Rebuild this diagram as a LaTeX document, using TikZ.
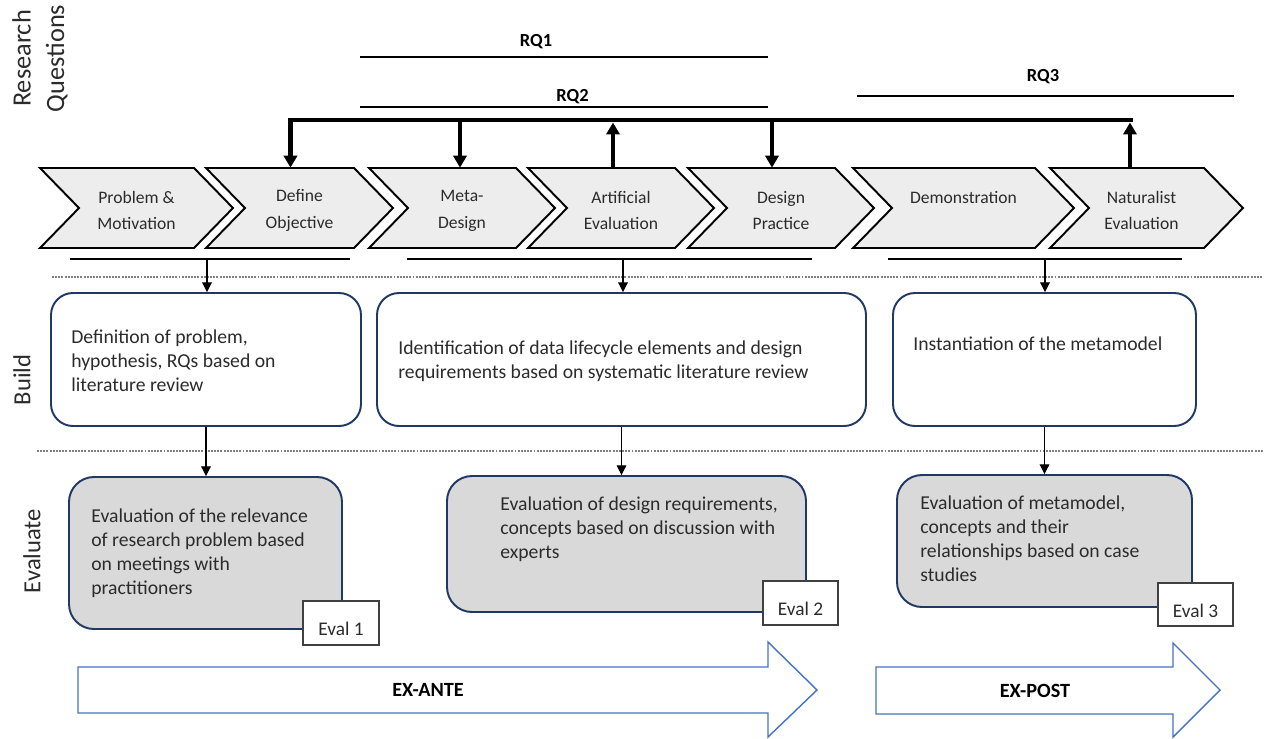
\documentclass[tikz,border=0pt]{standalone}
\usepackage{fontspec}
\setmainfont{Carlito}
\usetikzlibrary{arrows.meta}

% one drawing unit = one pixel of the layout grid
\newdimen\pxu \pxu=0.02cm

\definecolor{chevgray}{HTML}{EDEDED}
\definecolor{navy}{HTML}{1F3864}
\definecolor{evalgray}{HTML}{D9D9D9}
\definecolor{arrowblue}{HTML}{4472C4}
\definecolor{textgray}{HTML}{2B2B2B}
\definecolor{dotgray}{HTML}{808080}
\definecolor{taggray}{HTML}{404040}

% chevron: [label x offset] name, left x, tip x, label
\newcommand{\chevron}[5][0]{%
  \draw[chev] (#3,168) -- ({#4-39},168) -- (#4,208) -- ({#4-39},248)
    -- (#3,248) -- ({#3+39},208) -- cycle;
  \node[chevlabel] (#2) at ({(#3+#4)/2+#1},210.5) {#5};
}

\begin{document}
\begin{tikzpicture}[x=0.02cm,y=-0.02cm,
  chev/.style={draw=black,line width=1.1pt,fill=chevgray,line join=miter},
  chevlabel/.style={font=\fontsize{10}{15.3}\selectfont,align=center,
    text=textgray,minimum height=85\pxu,inner sep=0pt},
  sidelabel/.style={font=\fontsize{14}{18.7}\selectfont,align=center,
    text=textgray,rotate=90,inner sep=0pt},
  rqline/.style={line width=0.75pt},
  rqlabel/.style={font=\fontsize{10.5}{12}\selectfont\bfseries,inner sep=0pt},
  rqarrow/.style={line width=2.6pt,-{Triangle[width=7.5pt,length=6.8pt]}},
  spanline/.style={line width=0.7pt},
  phasesep/.style={draw=dotgray,line width=0.6pt,dash pattern=on 1.1pt off 0.7pt},
  thinarrow/.style={line width=0.6pt,-{Triangle[width=5.5pt,length=5.5pt]}},
  buildbox/.style={draw=navy,line width=1.1pt,fill=white,rounded corners=22\pxu,
    inner sep=0pt},
  evalbox/.style={draw=navy,line width=1.1pt,fill=evalgray,rounded corners=25\pxu,
    inner sep=0pt},
  boxtext/.style={font=\fontsize{11.2}{13.6}\selectfont,align=left,text=textgray,
    inner sep=0pt,anchor=west},
  evaltag/.style={draw=taggray,line width=0.6pt,fill=white,
    font=\fontsize{11}{13}\selectfont,text=textgray,
    text height=26\pxu,text depth=1\pxu},
  phasearrow/.style={draw=arrowblue,line width=0.8pt,fill=white,line join=miter},
  phaselabel/.style={font=\fontsize{11.5}{13}\selectfont\bfseries,inner sep=0pt}
]
\useasboundingbox (0,0) rectangle (1272,738);

% row labels
\node[sidelabel,font=\fontsize{15}{19}\selectfont] (lblrq) at (40,58.5) {Research\\Questions};
\node[sidelabel] (lblbuild) at (22,380) {Build};
\node[sidelabel] (lbleval) at (32,551) {Evaluate};

% research question spans
\node[rqlabel] (rq1) at (536,42) {RQ1};
\draw[rqline] (360,57) -- (768,57);
\node[rqlabel] (rq2) at (572.5,97) {RQ2};
\draw[rqline] (360,107) -- (768,107);
\node[rqlabel] (rq3) at (1043,77) {RQ3};
\draw[rqline] (857,96) -- (1234,96);

% process chevrons
\chevron{pm}{40}{233}{Problem \&\\Motivation}
\chevron{do}{206}{393}{Define\\Objective}
\chevron{md}{369}{555}{Meta-\\Design}
\chevron{ae}{528}{714}{Artificial\\Evaluation}
\chevron{dp}{688}{874}{Design\\Practice}
\chevron{dm}{853}{1074}{Demonstration\\\mbox{}}
\chevron[-5]{ne}{1050}{1243}{Naturalist\\Evaluation}

% research question bar with its links to the chevrons
\coordinate (barW) at (290.5,120);
\coordinate (barE) at (1133,120);
\coordinate (barMD) at (460,120);
\coordinate (barAE) at (613,122.5);
\coordinate (barDP) at (772,120);
\coordinate (barNE) at (1130,122.5);
\draw[rqarrow] (barE) -- (barW) -- (barW |- do.north);
\draw[rqarrow] (barMD) -- (barMD |- md.north);
\draw[rqarrow] (ae.north -| barAE) -- (barAE);
\draw[rqarrow] (barDP) -- (barDP |- dp.north);
\draw[rqarrow] (ne.north -| barNE) -- (barNE);

% group spans under the chevrons
\draw[spanline] (70,259) -- (350,259);
\draw[spanline] (407,259) -- (812,259);
\draw[spanline] (888,259) -- (1182,259);
\coordinate (s1) at (207,259);
\coordinate (s2) at (623,259);
\coordinate (s3) at (1045,259);

% phase separators
\draw[phasesep] (52,277) -- (1263,277);
\draw[phasesep] (37,451) -- (1263,451);

% build activities
\node[buildbox,minimum width=310\pxu,minimum height=133\pxu] (b1) at (206,359.5) {};
\node[boxtext] (b1t) at (71,361) {Definition of problem,\\hypothesis, RQs based on\\literature review};
\node[buildbox,minimum width=489\pxu,minimum height=133\pxu] (b2) at (621.5,359.5) {};
\node[boxtext] (b2t) at (398,361) {Identification of data lifecycle elements and design\\requirements based on systematic literature review};
\node[buildbox,minimum width=303\pxu,minimum height=133\pxu] (b3) at (1044.5,359.5) {};
\node[boxtext] (b3t) at (913,344) {Instantiation of the metamodel};

% evaluation activities
\node[evalbox,minimum width=273\pxu,minimum height=152\pxu] (e1) at (205.5,553) {};
\node[boxtext] (e1t) at (91,553) {Evaluation of the relevance\\of research problem based\\on meetings with\\practitioners};
\node[evalbox,minimum width=359\pxu,minimum height=136\pxu] (e2) at (626.5,544) {};
\node[boxtext] (e2t) at (500,529) {Evaluation of design requirements,\\concepts based on discussion with\\experts};
\node[evalbox,minimum width=295\pxu,minimum height=132\pxu] (e3) at (1044.5,541) {};
\node[boxtext] (e3t) at (920,539) {Evaluation of metamodel,\\concepts and their\\relationships based on case\\studies};

% evaluation tags
\node[evaltag,minimum width=76\pxu,minimum height=44\pxu] (t1) at (341,623) {Eval 1};
\node[evaltag,minimum width=75\pxu,minimum height=44\pxu] (t2) at (800.5,603) {Eval 2};
\node[evaltag,minimum width=75\pxu,minimum height=43\pxu] (t3) at (1195.5,604.5) {Eval 3};

% flow arrows between the rows
\draw[thinarrow] (s1) -- (s1 |- b1.north);
\draw[thinarrow] (s2) -- (s2 |- b2.north);
\draw[thinarrow] (s3) -- (s3 |- b3.north);
\draw[thinarrow] (b1.south) -- (b1.south |- e1.north);
\draw[thinarrow] (b2.south) -- (b2.south |- e2.north);
\draw[thinarrow] (b3.south) -- (b3.south |- e3.north);

% evaluation phases
\draw[phasearrow] (78,667) -- (768,667) -- (768,642) -- (817,690) -- (768,737)
  -- (768,713) -- (78,713) -- cycle;
\node[phaselabel] (exante) at (428,690) {EX-ANTE};
\draw[phasearrow] (876,667) -- (1173,667) -- (1173,643) -- (1220,690) -- (1173,737)
  -- (1173,714) -- (876,714) -- cycle;
\node[phaselabel] (expost) at (1035,691) {EX-POST};
\end{tikzpicture}
\end{document}
